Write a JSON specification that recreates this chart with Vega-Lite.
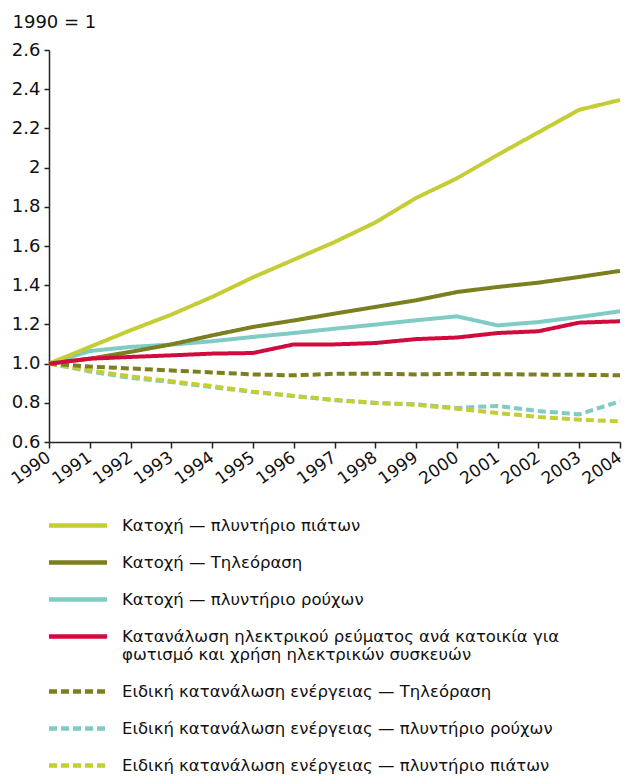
{
  "$schema": "https://vega.github.io/schema/vega-lite/v6.json",
  "width": 571,
  "height": 392,
  "autosize": {"type": "none"},
  "padding": {"left": 49, "top": 50, "right": 7, "bottom": 338},
  "background": "white",
  "config": {
    "font": "DejaVu Sans",
    "view": {"stroke": null},
    "axis": {"grid": false, "domainColor": "#222", "tickColor": "#222", "labelColor": "#111", "labelFontSize": 18, "domainWidth": 1.5, "tickWidth": 1.5}
  },
  "datasets": {
    "d": [
      {"s": "Ειδική κατανάλωση ενέργειας — πλυντήριο ρούχων", "year": 1990, "v": 1.0},
      {"s": "Ειδική κατανάλωση ενέργειας — πλυντήριο ρούχων", "year": 1991, "v": 0.96},
      {"s": "Ειδική κατανάλωση ενέργειας — πλυντήριο ρούχων", "year": 1992, "v": 0.927},
      {"s": "Ειδική κατανάλωση ενέργειας — πλυντήριο ρούχων", "year": 1993, "v": 0.906},
      {"s": "Ειδική κατανάλωση ενέργειας — πλυντήριο ρούχων", "year": 1994, "v": 0.88},
      {"s": "Ειδική κατανάλωση ενέργειας — πλυντήριο ρούχων", "year": 1995, "v": 0.855},
      {"s": "Ειδική κατανάλωση ενέργειας — πλυντήριο ρούχων", "year": 1996, "v": 0.835},
      {"s": "Ειδική κατανάλωση ενέργειας — πλυντήριο ρούχων", "year": 1997, "v": 0.813},
      {"s": "Ειδική κατανάλωση ενέργειας — πλυντήριο ρούχων", "year": 1998, "v": 0.799},
      {"s": "Ειδική κατανάλωση ενέργειας — πλυντήριο ρούχων", "year": 1999, "v": 0.792},
      {"s": "Ειδική κατανάλωση ενέργειας — πλυντήριο ρούχων", "year": 2000, "v": 0.774},
      {"s": "Ειδική κατανάλωση ενέργειας — πλυντήριο ρούχων", "year": 2001, "v": 0.784},
      {"s": "Ειδική κατανάλωση ενέργειας — πλυντήριο ρούχων", "year": 2002, "v": 0.758},
      {"s": "Ειδική κατανάλωση ενέργειας — πλυντήριο ρούχων", "year": 2003, "v": 0.741},
      {"s": "Ειδική κατανάλωση ενέργειας — πλυντήριο ρούχων", "year": 2004, "v": 0.808},
      {"s": "Ειδική κατανάλωση ενέργειας — πλυντήριο πιάτων", "year": 1990, "v": 1.0},
      {"s": "Ειδική κατανάλωση ενέργειας — πλυντήριο πιάτων", "year": 1991, "v": 0.965},
      {"s": "Ειδική κατανάλωση ενέργειας — πλυντήριο πιάτων", "year": 1992, "v": 0.935},
      {"s": "Ειδική κατανάλωση ενέργειας — πλυντήριο πιάτων", "year": 1993, "v": 0.91},
      {"s": "Ειδική κατανάλωση ενέργειας — πλυντήριο πιάτων", "year": 1994, "v": 0.885},
      {"s": "Ειδική κατανάλωση ενέργειας — πλυντήριο πιάτων", "year": 1995, "v": 0.857},
      {"s": "Ειδική κατανάλωση ενέργειας — πλυντήριο πιάτων", "year": 1996, "v": 0.835},
      {"s": "Ειδική κατανάλωση ενέργειας — πλυντήριο πιάτων", "year": 1997, "v": 0.815},
      {"s": "Ειδική κατανάλωση ενέργειας — πλυντήριο πιάτων", "year": 1998, "v": 0.8},
      {"s": "Ειδική κατανάλωση ενέργειας — πλυντήριο πιάτων", "year": 1999, "v": 0.79},
      {"s": "Ειδική κατανάλωση ενέργειας — πλυντήριο πιάτων", "year": 2000, "v": 0.77},
      {"s": "Ειδική κατανάλωση ενέργειας — πλυντήριο πιάτων", "year": 2001, "v": 0.748},
      {"s": "Ειδική κατανάλωση ενέργειας — πλυντήριο πιάτων", "year": 2002, "v": 0.728},
      {"s": "Ειδική κατανάλωση ενέργειας — πλυντήριο πιάτων", "year": 2003, "v": 0.714},
      {"s": "Ειδική κατανάλωση ενέργειας — πλυντήριο πιάτων", "year": 2004, "v": 0.705},
      {"s": "Ειδική κατανάλωση ενέργειας — Τηλεόραση", "year": 1990, "v": 1.0},
      {"s": "Ειδική κατανάλωση ενέργειας — Τηλεόραση", "year": 1991, "v": 0.985},
      {"s": "Ειδική κατανάλωση ενέργειας — Τηλεόραση", "year": 1992, "v": 0.975},
      {"s": "Ειδική κατανάλωση ενέργειας — Τηλεόραση", "year": 1993, "v": 0.965},
      {"s": "Ειδική κατανάλωση ενέργειας — Τηλεόραση", "year": 1994, "v": 0.955},
      {"s": "Ειδική κατανάλωση ενέργειας — Τηλεόραση", "year": 1995, "v": 0.945},
      {"s": "Ειδική κατανάλωση ενέργειας — Τηλεόραση", "year": 1996, "v": 0.94},
      {"s": "Ειδική κατανάλωση ενέργειας — Τηλεόραση", "year": 1997, "v": 0.948},
      {"s": "Ειδική κατανάλωση ενέργειας — Τηλεόραση", "year": 1998, "v": 0.948},
      {"s": "Ειδική κατανάλωση ενέργειας — Τηλεόραση", "year": 1999, "v": 0.945},
      {"s": "Ειδική κατανάλωση ενέργειας — Τηλεόραση", "year": 2000, "v": 0.948},
      {"s": "Ειδική κατανάλωση ενέργειας — Τηλεόραση", "year": 2001, "v": 0.946},
      {"s": "Ειδική κατανάλωση ενέργειας — Τηλεόραση", "year": 2002, "v": 0.944},
      {"s": "Ειδική κατανάλωση ενέργειας — Τηλεόραση", "year": 2003, "v": 0.943},
      {"s": "Ειδική κατανάλωση ενέργειας — Τηλεόραση", "year": 2004, "v": 0.94},
      {"s": "Κατοχή — πλυντήριο ρούχων", "year": 1990, "v": 1.0},
      {"s": "Κατοχή — πλυντήριο ρούχων", "year": 1991, "v": 1.064},
      {"s": "Κατοχή — πλυντήριο ρούχων", "year": 1992, "v": 1.085},
      {"s": "Κατοχή — πλυντήριο ρούχων", "year": 1993, "v": 1.097},
      {"s": "Κατοχή — πλυντήριο ρούχων", "year": 1994, "v": 1.114},
      {"s": "Κατοχή — πλυντήριο ρούχων", "year": 1995, "v": 1.136},
      {"s": "Κατοχή — πλυντήριο ρούχων", "year": 1996, "v": 1.156},
      {"s": "Κατοχή — πλυντήριο ρούχων", "year": 1997, "v": 1.178},
      {"s": "Κατοχή — πλυντήριο ρούχων", "year": 1998, "v": 1.199},
      {"s": "Κατοχή — πλυντήριο ρούχων", "year": 1999, "v": 1.221},
      {"s": "Κατοχή — πλυντήριο ρούχων", "year": 2000, "v": 1.241},
      {"s": "Κατοχή — πλυντήριο ρούχων", "year": 2001, "v": 1.195},
      {"s": "Κατοχή — πλυντήριο ρούχων", "year": 2002, "v": 1.212},
      {"s": "Κατοχή — πλυντήριο ρούχων", "year": 2003, "v": 1.238},
      {"s": "Κατοχή — πλυντήριο ρούχων", "year": 2004, "v": 1.267},
      {"s": "Κατοχή — Τηλεόραση", "year": 1990, "v": 1.0},
      {"s": "Κατοχή — Τηλεόραση", "year": 1991, "v": 1.025},
      {"s": "Κατοχή — Τηλεόραση", "year": 1992, "v": 1.06},
      {"s": "Κατοχή — Τηλεόραση", "year": 1993, "v": 1.098},
      {"s": "Κατοχή — Τηλεόραση", "year": 1994, "v": 1.144},
      {"s": "Κατοχή — Τηλεόραση", "year": 1995, "v": 1.187},
      {"s": "Κατοχή — Τηλεόραση", "year": 1996, "v": 1.22},
      {"s": "Κατοχή — Τηλεόραση", "year": 1997, "v": 1.255},
      {"s": "Κατοχή — Τηλεόραση", "year": 1998, "v": 1.289},
      {"s": "Κατοχή — Τηλεόραση", "year": 1999, "v": 1.323},
      {"s": "Κατοχή — Τηλεόραση", "year": 2000, "v": 1.365},
      {"s": "Κατοχή — Τηλεόραση", "year": 2001, "v": 1.391},
      {"s": "Κατοχή — Τηλεόραση", "year": 2002, "v": 1.413},
      {"s": "Κατοχή — Τηλεόραση", "year": 2003, "v": 1.442},
      {"s": "Κατοχή — Τηλεόραση", "year": 2004, "v": 1.473},
      {"s": "Κατοχή — πλυντήριο πιάτων", "year": 1990, "v": 1.0},
      {"s": "Κατοχή — πλυντήριο πιάτων", "year": 1991, "v": 1.085},
      {"s": "Κατοχή — πλυντήριο πιάτων", "year": 1992, "v": 1.17},
      {"s": "Κατοχή — πλυντήριο πιάτων", "year": 1993, "v": 1.25},
      {"s": "Κατοχή — πλυντήριο πιάτων", "year": 1994, "v": 1.34},
      {"s": "Κατοχή — πλυντήριο πιάτων", "year": 1995, "v": 1.44},
      {"s": "Κατοχή — πλυντήριο πιάτων", "year": 1996, "v": 1.53},
      {"s": "Κατοχή — πλυντήριο πιάτων", "year": 1997, "v": 1.62},
      {"s": "Κατοχή — πλυντήριο πιάτων", "year": 1998, "v": 1.72},
      {"s": "Κατοχή — πλυντήριο πιάτων", "year": 1999, "v": 1.845},
      {"s": "Κατοχή — πλυντήριο πιάτων", "year": 2000, "v": 1.945},
      {"s": "Κατοχή — πλυντήριο πιάτων", "year": 2001, "v": 2.065},
      {"s": "Κατοχή — πλυντήριο πιάτων", "year": 2002, "v": 2.18},
      {"s": "Κατοχή — πλυντήριο πιάτων", "year": 2003, "v": 2.295},
      {"s": "Κατοχή — πλυντήριο πιάτων", "year": 2004, "v": 2.345},
      {"s": "Κατανάλωση ηλεκτρικού ρεύματος ανά κατοικία για φωτισμό και χρήση ηλεκτρικών συσκευών", "year": 1990, "v": 1.0},
      {"s": "Κατανάλωση ηλεκτρικού ρεύματος ανά κατοικία για φωτισμό και χρήση ηλεκτρικών συσκευών", "year": 1991, "v": 1.025},
      {"s": "Κατανάλωση ηλεκτρικού ρεύματος ανά κατοικία για φωτισμό και χρήση ηλεκτρικών συσκευών", "year": 1992, "v": 1.034},
      {"s": "Κατανάλωση ηλεκτρικού ρεύματος ανά κατοικία για φωτισμό και χρήση ηλεκτρικών συσκευών", "year": 1993, "v": 1.042},
      {"s": "Κατανάλωση ηλεκτρικού ρεύματος ανά κατοικία για φωτισμό και χρήση ηλεκτρικών συσκευών", "year": 1994, "v": 1.051},
      {"s": "Κατανάλωση ηλεκτρικού ρεύματος ανά κατοικία για φωτισμό και χρήση ηλεκτρικών συσκευών", "year": 1995, "v": 1.054},
      {"s": "Κατανάλωση ηλεκτρικού ρεύματος ανά κατοικία για φωτισμό και χρήση ηλεκτρικών συσκευών", "year": 1996, "v": 1.098},
      {"s": "Κατανάλωση ηλεκτρικού ρεύματος ανά κατοικία για φωτισμό και χρήση ηλεκτρικών συσκευών", "year": 1997, "v": 1.098},
      {"s": "Κατανάλωση ηλεκτρικού ρεύματος ανά κατοικία για φωτισμό και χρήση ηλεκτρικών συσκευών", "year": 1998, "v": 1.105},
      {"s": "Κατανάλωση ηλεκτρικού ρεύματος ανά κατοικία για φωτισμό και χρήση ηλεκτρικών συσκευών", "year": 1999, "v": 1.125},
      {"s": "Κατανάλωση ηλεκτρικού ρεύματος ανά κατοικία για φωτισμό και χρήση ηλεκτρικών συσκευών", "year": 2000, "v": 1.133},
      {"s": "Κατανάλωση ηλεκτρικού ρεύματος ανά κατοικία για φωτισμό και χρήση ηλεκτρικών συσκευών", "year": 2001, "v": 1.156},
      {"s": "Κατανάλωση ηλεκτρικού ρεύματος ανά κατοικία για φωτισμό και χρήση ηλεκτρικών συσκευών", "year": 2002, "v": 1.165},
      {"s": "Κατανάλωση ηλεκτρικού ρεύματος ανά κατοικία για φωτισμό και χρήση ηλεκτρικών συσκευών", "year": 2003, "v": 1.209},
      {"s": "Κατανάλωση ηλεκτρικού ρεύματος ανά κατοικία για φωτισμό και χρήση ηλεκτρικών συσκευών", "year": 2004, "v": 1.216}
    ]
  },
  "data": {"name": "d"},
  "mark": {"type": "line", "strokeWidth": 4, "strokeCap": "butt"},
  "encoding": {
    "x": {
      "field": "year", "type": "quantitative",
      "scale": {"domain": [1990, 2004], "nice": false, "zero": false},
      "axis": {"title": null, "values": [1990,1991,1992,1993,1994,1995,1996,1997,1998,1999,2000,2001,2002,2003,2004], "format": "d", "labelAngle": -35, "labelAlign": "right", "labelBaseline": "top", "labelFontSize": 17, "tickSize": 6, "labelPadding": 1, "labelOffset": -5, "labelFlush": false, "labelOverlap": false}
    },
    "y": {
      "field": "v", "type": "quantitative",
      "scale": {"domain": [0.6, 2.6], "nice": false, "zero": false},
      "axis": {"title": "1990 = 1", "titleAngle": 0, "titleAlign": "left", "titleBaseline": "alphabetic", "titleX": -37, "titleY": -23, "titleFontWeight": "normal", "titleFontSize": 18, "titleColor": "#111", "values": [0.6,0.8,1,1.2,1.4,1.6,1.8,2,2.2,2.4,2.6], "labelExpr": "abs(datum.value - 2) < 0.001 ? '2\u00a0\u00a0' : format(datum.value, '.1f')", "tickSize": 5, "labelPadding": 4}
    },
    "color": {
      "field": "s", "type": "nominal",
      "scale": {
        "domain": ["Κατοχή — πλυντήριο πιάτων", "Κατοχή — Τηλεόραση", "Κατοχή — πλυντήριο ρούχων", "Κατανάλωση ηλεκτρικού ρεύματος ανά κατοικία για φωτισμό και χρήση ηλεκτρικών συσκευών", "Ειδική κατανάλωση ενέργειας — Τηλεόραση", "Ειδική κατανάλωση ενέργειας — πλυντήριο ρούχων", "Ειδική κατανάλωση ενέργειας — πλυντήριο πιάτων"],
        "range": ["#c5cd35", "#7c7f1f", "#80cbc4", "#d30a3e", "#7c7f1f", "#80cbc4", "#c5cd35"]
      },
      "legend": {"orient": "none", "legendX": 16.5, "legendY": 463, "direction": "vertical", "title": null, "symbolType": "M-2.9,0L2.9,0", "symbolSize": 400, "symbolStrokeWidth": 4.5, "labelFontSize": 16.5, "labelColor": "#111", "labelOffset": 31.5, "rowPadding": 15, "labelLimit": 600, "padding": 0, "labelExpr": "indexof(datum.label, 'ρεύματος') >= 0 ? ['Κατανάλωση ηλεκτρικού ρεύματος ανά κατοικία για', 'φωτισμό και χρήση ηλεκτρικών συσκευών'] : datum.label"}
    },
    "strokeDash": {
      "field": "s", "type": "nominal",
      "scale": {
        "domain": ["Κατοχή — πλυντήριο πιάτων", "Κατοχή — Τηλεόραση", "Κατοχή — πλυντήριο ρούχων", "Κατανάλωση ηλεκτρικού ρεύματος ανά κατοικία για φωτισμό και χρήση ηλεκτρικών συσκευών", "Ειδική κατανάλωση ενέργειας — Τηλεόραση", "Ειδική κατανάλωση ενέργειας — πλυντήριο ρούχων", "Ειδική κατανάλωση ενέργειας — πλυντήριο πιάτων"],
        "range": [[1, 0], [1, 0], [1, 0], [1, 0], [8, 4], [8, 4], [8, 4]]
      },
      "legend": {"orient": "none", "legendX": 16.5, "legendY": 463, "direction": "vertical", "title": null, "symbolType": "M-2.9,0L2.9,0", "symbolSize": 400, "symbolStrokeWidth": 4.5, "labelFontSize": 16.5, "labelColor": "#111", "labelOffset": 31.5, "rowPadding": 15, "labelLimit": 600, "padding": 0, "labelExpr": "indexof(datum.label, 'ρεύματος') >= 0 ? ['Κατανάλωση ηλεκτρικού ρεύματος ανά κατοικία για', 'φωτισμό και χρήση ηλεκτρικών συσκευών'] : datum.label"}
    }
  }
}
